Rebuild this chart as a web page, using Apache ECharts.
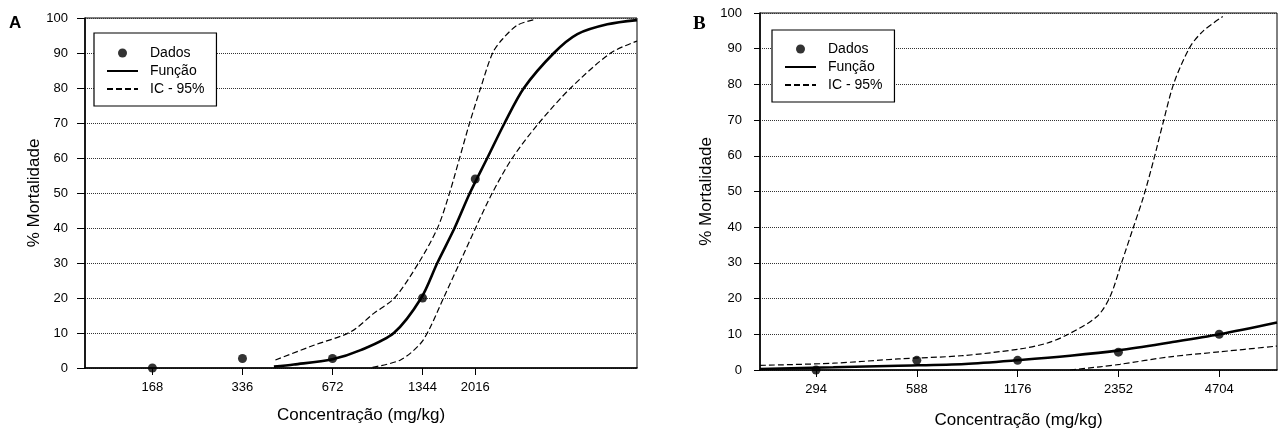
<!DOCTYPE html>
<html>
<head>
<meta charset="utf-8">
<script src="https://cdn.jsdelivr.net/npm/echarts@6/dist/echarts.min.js"></script>
<style>
html,body{margin:0;padding:0;background:#fff;}
#c{width:1279px;height:434px;}
</style>
</head>
<body>
<div id="c"></div>
<script>
// ---------- Panel A ----------
const A_ticks = [168, 336, 672, 1344, 2016];
const A_dose = [168, 336, 672, 1344, 2016];
const A_mort = [0, 2.7, 2.7, 20, 54];
const A_fitX = [428, 499, 671, 834, 1077, 1330, 1505, 1719, 1934, 2212, 2527, 2932, 3693, 4423, 5572, 7000];
const A_fitY = [0.4, 1.0, 2.5, 5.1, 10, 20, 30, 40, 50, 60, 70, 80, 90, 95.4, 98.2, 99.4];
const A_upX = [433, 582, 772, 923, 1083, 1303, 1508, 1654, 1787, 1930, 2101, 2304, 2488, 2793, 3208];
const A_upY = [2.3, 6.5, 10.3, 15.6, 20, 30, 40, 50, 60, 70, 80, 90, 94, 98, 99.6];
const A_loX = [914, 1134, 1323, 1429, 1579, 1787, 2021, 2298, 2682, 3291, 4201, 5716, 7000];
const A_loY = [0.2, 2.3, 7.0, 11.8, 20, 30, 40, 50, 60, 70, 80, 90, 93.4];

// ---------- Panel B ----------
const B_ticks = [294, 588, 1176, 2352, 4704];
const B_dose = [294, 588, 1176, 2352, 4704];
const B_mort = [0, 2.7, 2.7, 5.0, 10];
const B_fitX = [200, 331, 518, 819, 1196, 1687, 2362, 3355, 4708, 7000];
const B_fitY = [0.3, 0.75, 1.2, 1.7, 2.8, 4.0, 5.5, 7.7, 10, 13.3];
const B_upX = [200, 331, 518, 801, 1196, 1437, 1649, 2026, 2220, 2407, 2606, 2792, 2991, 3203, 3449, 3850, 4219, 4820];
const B_upY = [1.3, 1.9, 3.1, 4.0, 5.9, 7.5, 9.8, 14.9, 20.5, 30.2, 39.9, 48.4, 58.5, 69.5, 80.5, 90.5, 95, 99];
const B_loX = [1687, 2073, 2379, 3355, 4732, 7000];
const B_loY = [0, 0.9, 1.6, 3.7, 5.1, 6.7];

const yTitle = '% Mortalidade';
const xTitle = 'Concentração (mg/kg)';
const legendNames = ['Dados', 'Função', 'IC - 95%'];

const FONT = '"Liberation Sans", Arial, sans-serif';
const pairs = (xs, ys) => xs.map((x, i) => [x, ys[i]]);

function xAxisCfg(gi, min, max, ticks, gap) {
  return {
    gridIndex: gi, type: 'log', logBase: 10, min: min, max: max,
    axisLine: { show: true, lineStyle: { color: '#000', width: 1.6 } },
    axisTick: { show: true, length: 7, customValues: ticks, lineStyle: { color: '#000', width: 1 } },
    axisLabel: { customValues: ticks, margin: 13, fontSize: 13, color: '#000', fontFamily: FONT,
                 formatter: v => String(Math.round(v)) },
    splitLine: { show: false }, minorTick: { show: false }, minorSplitLine: { show: false },
    name: xTitle, nameLocation: 'middle', nameGap: gap,
    nameTextStyle: { fontSize: 17, color: '#000', fontFamily: FONT }
  };
}
function yAxisCfg(gi, tickLen, margin, gap) {
  return {
    gridIndex: gi, type: 'value', min: 0, max: 100, interval: 10,
    axisLine: { show: true, lineStyle: { color: '#000', width: 1.6 } },
    axisTick: { show: true, length: tickLen, lineStyle: { color: '#000', width: 1 } },
    axisLabel: { margin: margin, fontSize: 13, color: '#000', fontFamily: FONT },
    splitLine: { show: true, lineStyle: { type: 'dotted', color: '#333', width: 1 } },
    name: yTitle, nameLocation: 'middle', nameGap: gap, nameRotate: 90,
    nameTextStyle: { fontSize: 17, color: '#000', fontFamily: FONT }
  };
}
function legendCfg(left, top, pad) {
  return {
    orient: 'vertical', left: left, top: top, padding: pad,
    itemWidth: 31, itemHeight: 9, itemGap: 4, selectedMode: false,
    borderColor: '#000', borderWidth: 1.2, backgroundColor: '#fff',
    textStyle: { fontSize: 14, color: '#000', fontFamily: FONT, padding: [0, 0, 0, 7] },
    data: [
      { name: legendNames[0], icon: 'circle', itemStyle: { color: '#000' } },
      { name: legendNames[1], itemStyle: { opacity: 0 } },
      { name: legendNames[2], itemStyle: { opacity: 0 } }
    ]
  };
}
function seriesFor(gi, dose, mort, fx, fy, ux, uy, lx, ly) {
  const dash = { color: '#000', width: 1.2, type: [6, 3] };
  const common = { type: 'line', xAxisIndex: gi, yAxisIndex: gi, symbol: 'none',
                   smooth: 0.3, itemStyle: { color: '#000' } };
  return [
    { name: 'Dados', type: 'scatter', xAxisIndex: gi, yAxisIndex: gi, data: pairs(dose, mort),
      symbol: 'circle', symbolSize: 9, itemStyle: { color: '#000' }, z: 6 },
    Object.assign({ name: 'Função', data: pairs(fx, fy), lineStyle: { color: '#000', width: 2.6 }, z: 4 }, common),
    Object.assign({ name: 'IC - 95%', data: pairs(ux, uy), lineStyle: dash, z: 3 }, common),
    Object.assign({ name: 'IC - 95%', data: pairs(lx, ly), lineStyle: dash, z: 3 }, common)
  ];
}

const chart = echarts.init(document.getElementById('c'), null, { renderer: 'canvas' });
chart.setOption({
  animation: false,
  backgroundColor: '#fff',
  title: [
    { text: 'A', left: 9, top: 15, padding: 0,
      textStyle: { fontSize: 17, fontWeight: 'bold', color: '#000', fontFamily: FONT } },
    { text: 'B', left: 693, top: 15, padding: 0,
      textStyle: { fontSize: 19, fontWeight: 'bold', color: '#000', fontFamily: '"Liberation Serif", "Times New Roman", serif' } }
  ],
  grid: [
    { left: 85, top: 18, width: 552, height: 350, show: true, borderColor: '#000', borderWidth: 1, backgroundColor: 'transparent' },
    { left: 760, top: 13, width: 517, height: 361, show: true, borderColor: '#000', borderWidth: 1, backgroundColor: 'transparent' }
  ],
  legend: [legendCfg(94, 33, [13, 12, 10, 12]), legendCfg(772, 30, [12, 12, 10, 12])],
  xAxis: [xAxisCfg(0, 100, 7000, A_ticks, 39), xAxisCfg(1, 200, 7000, B_ticks, 42)],
  yAxis: [yAxisCfg(0, 8, 17, 41), yAxisCfg(1, 6, 18, 45)],
  series: [].concat(
    seriesFor(0, A_dose, A_mort, A_fitX, A_fitY, A_upX, A_upY, A_loX, A_loY),
    seriesFor(1, B_dose, B_mort, B_fitX, B_fitY, B_upX, B_upY, B_loX, B_loY)
  )
});
</script>
</body>
</html>
